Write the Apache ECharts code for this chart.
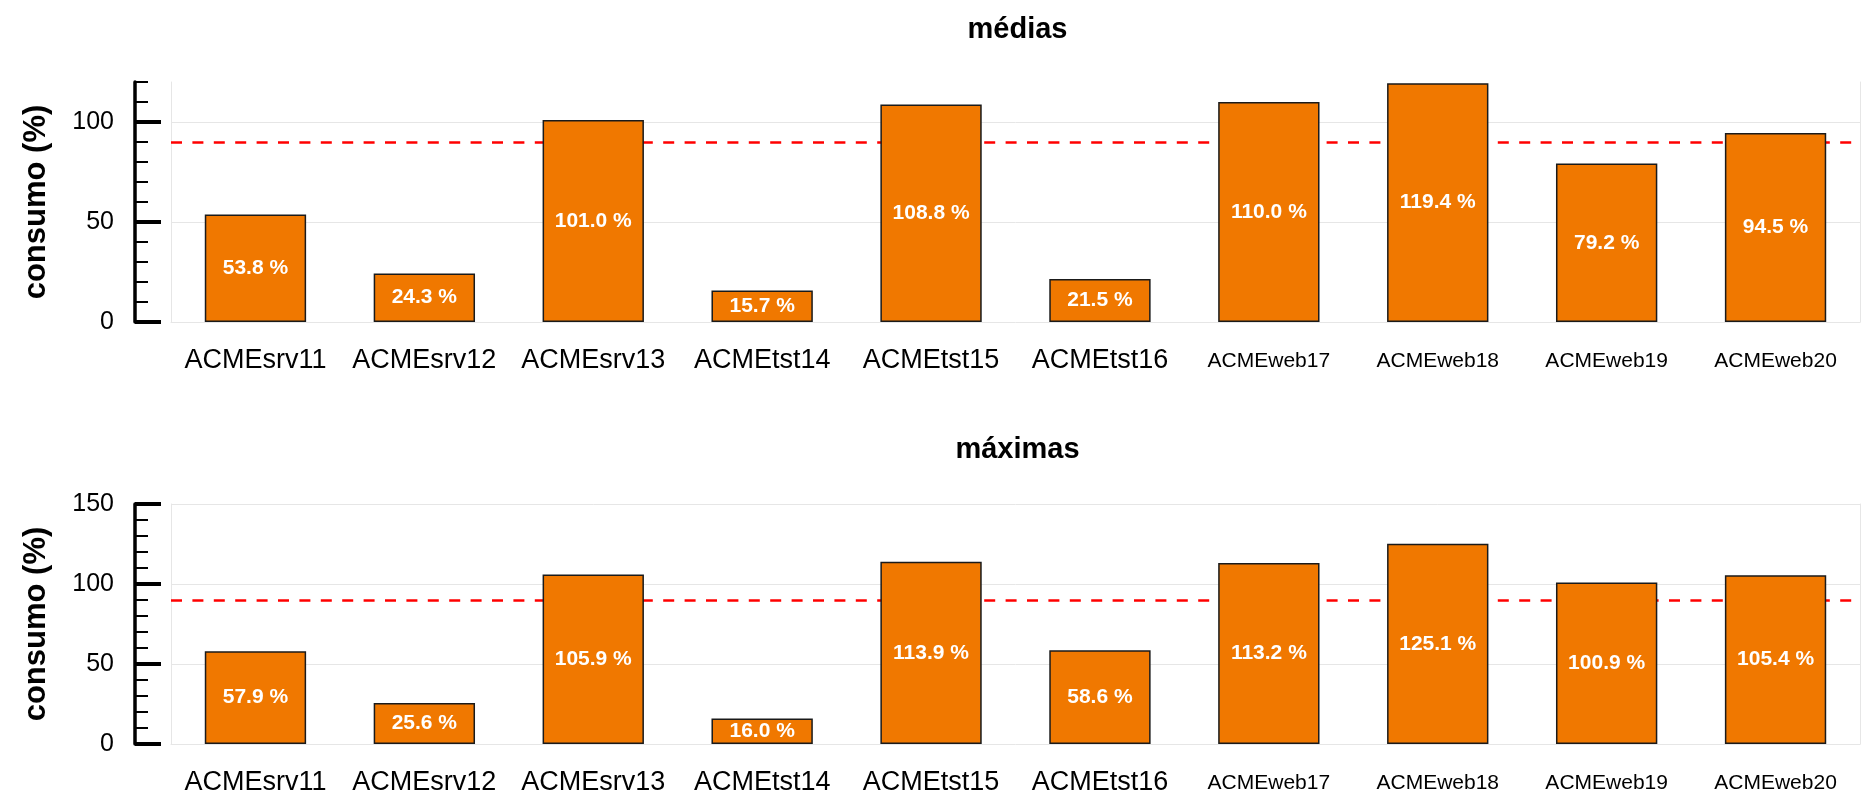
<!DOCTYPE html>
<html>
<head>
<meta charset="utf-8">
<script src="https://cdn.jsdelivr.net/npm/echarts@6/dist/echarts.min.js"></script>
<style>
html,body{margin:0;padding:0;background:#fff;}
#chart{width:1861px;height:798px;}
</style>
</head>
<body>
<div id="chart"></div>
<script>
// ---- data ----
const categories = ['ACMEsrv11','ACMEsrv12','ACMEsrv13','ACMEtst14','ACMEtst15','ACMEtst16','ACMEweb17','ACMEweb18','ACMEweb19','ACMEweb20'];
const mediasValues = [53.8, 24.3, 101.0, 15.7, 108.8, 21.5, 110.0, 119.4, 79.2, 94.5];
const maximasValues = [57.9, 25.6, 105.9, 16.0, 113.9, 58.6, 113.2, 125.1, 100.9, 105.4];
const threshold = 90;
const titles = ['médias', 'máximas'];
const yAxisName = 'consumo (%)';
const topMax = 120;
const bottomMax = 150;
const topMajorTicks = [0, 50, 100];
const topMinorTicks = [0, 10, 20, 30, 40, 50, 60, 70, 80, 90, 100, 110, 120];
const bottomMajorTicks = [0, 50, 100, 150];
const bottomMinorTicks = [0, 10, 20, 30, 40, 50, 60, 70, 80, 90, 100, 110, 120, 130, 140, 150];

// ---- styling / layout ----
const FONT = 'Liberation Sans, Arial, sans-serif';
const ORANGE = '#F07800';
const GRIDLINE = '#e6e6e6';
const gridLeft = 171, gridRight = 1, gridHeight = 240;
const gridTops = [82, 504];
const titleTops = [10, 430];
const axisOffset = 36;

const chart = echarts.init(document.getElementById('chart'), null, {renderer: 'canvas'});

function catData() {
  return categories.map(c => ({
    value: c,
    textStyle: { fontSize: c.indexOf('ACMEweb') === 0 ? 21 : 27, lineHeight: 30 }
  }));
}

const panels = [
  { values: mediasValues, max: topMax, major: topMajorTicks, minor: topMinorTicks },
  { values: maximasValues, max: bottomMax, major: bottomMajorTicks, minor: bottomMinorTicks }
];

const option = {
  backgroundColor: '#fff',
  animation: false,
  textStyle: { fontFamily: FONT },
  title: [],
  grid: [],
  xAxis: [],
  yAxis: [],
  series: []
};

panels.forEach((p, i) => {
  option.title.push({
    text: titles[i],
    left: gridLeft + (1861 - gridRight - gridLeft) / 2 - 3,
    top: titleTops[i],
    textAlign: 'center',
    textStyle: { fontFamily: FONT, fontSize: 29, fontWeight: 'bold', color: '#000' }
  });
  option.grid.push({
    left: gridLeft, right: gridRight, top: gridTops[i], height: gridHeight,
    containLabel: false
  });
  option.xAxis.push({
    type: 'category',
    gridIndex: i,
    data: catData(),
    axisLine: { show: true, lineStyle: { color: GRIDLINE, width: 1 } },
    axisTick: { show: false },
    axisLabel: {
      color: '#000', fontFamily: FONT, fontSize: 27, lineHeight: 30,
      margin: 24, interval: 0
    },
    splitLine: { show: false }
  });
  const base = i * 4;
  // major (labelled) axis
  option.yAxis.push({
    type: 'value', gridIndex: i, position: 'left', offset: axisOffset,
    min: 0, max: p.max, interval: 50,
    name: yAxisName, nameLocation: 'middle', nameGap: 83,
    nameTextStyle: { fontFamily: FONT, fontSize: 31, fontWeight: 'bold', color: '#000' },
    axisLine: { show: true, lineStyle: { color: '#000', width: 3.5 } },
    axisTick: { show: true, inside: true, length: 26, lineStyle: { color: '#000', width: 4 }, customValues: p.major },
    axisLabel: { show: true, color: '#000', fontFamily: FONT, fontSize: 25, margin: 21, customValues: p.major },
    splitLine: { show: false }
  });
  // minor ticks axis
  option.yAxis.push({
    type: 'value', gridIndex: i, position: 'left', offset: axisOffset,
    min: 0, max: p.max, interval: 50,
    axisLine: { show: false },
    axisTick: { show: true, inside: true, length: 13, lineStyle: { color: '#000', width: 2 }, customValues: p.minor },
    axisLabel: { show: false },
    splitLine: { show: false }
  });
  // frame left
  option.yAxis.push({
    type: 'value', gridIndex: i, position: 'left', offset: 0,
    min: 0, max: p.max, interval: 50,
    axisLine: { show: true, lineStyle: { color: GRIDLINE, width: 1 } },
    axisTick: { show: false },
    axisLabel: { show: false },
    splitLine: { show: false }
  });
  // frame right
  option.yAxis.push({
    type: 'value', gridIndex: i, position: 'right', offset: 0,
    min: 0, max: p.max, interval: 50,
    axisLine: { show: true, lineStyle: { color: GRIDLINE, width: 1 } },
    axisTick: { show: false },
    axisLabel: { show: false },
    splitLine: { show: false }
  });
  const gridLines = p.major.filter(v => v > 0).map(v => ({
    yAxis: v, lineStyle: { color: GRIDLINE, width: 1, type: 'solid' }
  }));
  option.series.push({
    type: 'bar',
    name: titles[i],
    xAxisIndex: i,
    yAxisIndex: base,
    data: p.values,
    barWidth: '60%',
    itemStyle: { color: ORANGE, borderColor: '#1a1a1a', borderWidth: 1.5 },
    label: {
      show: true, position: 'inside', color: '#fff',
      fontFamily: FONT, fontSize: 21, fontWeight: 'bold',
      formatter: d => d.value.toFixed(1) + ' %'
    },
    markLine: {
      silent: true,
      z: 1,
      symbol: 'none',
      label: { show: false },
      emphasis: { disabled: true },
      lineStyle: { color: '#ff0000', width: 2.5, type: [11, 10.4] },
      data: gridLines.concat([{ yAxis: threshold }])
    },
    z: 2
  });
});

chart.setOption(option);
</script>
</body>
</html>
